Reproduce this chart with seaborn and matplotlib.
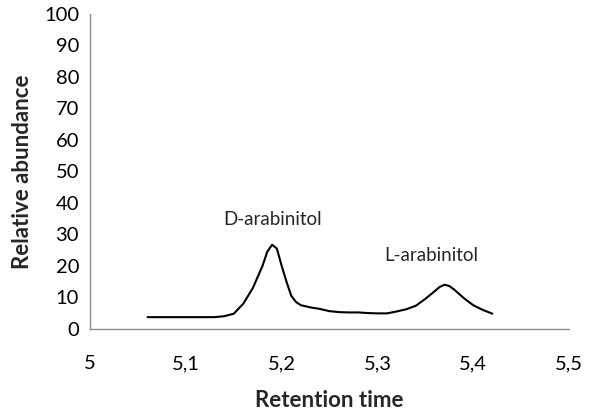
import seaborn as sns
import matplotlib.pyplot as plt
import pandas as pd

# Chromatogram trace
retention = [5.06, 5.08, 5.10, 5.12, 5.13, 5.14, 5.15, 5.16, 5.17, 5.18, 5.185,
             5.19, 5.195, 5.20, 5.205, 5.21, 5.215, 5.22, 5.23, 5.24, 5.25, 5.26,
             5.27, 5.28, 5.29, 5.30, 5.31, 5.32, 5.33, 5.34, 5.35, 5.36, 5.365,
             5.37, 5.375, 5.38, 5.39, 5.40, 5.41, 5.42]
abundance = [3.7, 3.7, 3.7, 3.7, 3.7, 4.0, 4.8, 8.0, 13.0, 20.0, 24.5,
             26.7, 25.5, 20.0, 15.0, 10.5, 8.5, 7.5, 6.8, 6.3, 5.6, 5.3,
             5.2, 5.2, 5.0, 4.9, 4.9, 5.5, 6.2, 7.3, 9.5, 12.0, 13.3,
             14.0, 13.6, 12.5, 9.8, 7.5, 6.0, 4.8]

peak_labels = ['D-arabinitol', 'L-arabinitol']
peak_label_x = [5.19, 5.356]
peak_label_y = [34.6, 23.2]

x_ticks = [5.0, 5.1, 5.2, 5.3, 5.4, 5.5]
x_tick_labels = ['5', '5,1', '5,2', '5,3', '5,4', '5,5']
y_ticks = list(range(0, 101, 10))

df = pd.DataFrame({'Retention time': retention, 'Relative abundance': abundance})

sns.set_style('white')
plt.rcParams['font.family'] = ['Lato', 'DejaVu Sans']

fig = plt.figure(figsize=(5.89, 4.11), dpi=100)
ax = fig.add_axes([0.153, 0.2, 0.813, 0.766])

sns.lineplot(data=df, x='Retention time', y='Relative abundance',
             color='black', linewidth=1.5, ax=ax)

for label, lx, ly in zip(peak_labels, peak_label_x, peak_label_y):
    ax.text(lx, ly, label, ha='center', va='center', fontsize=13.5)

ax.set_xlim(5.0, 5.5)
ax.set_ylim(0, 100)
ax.set_xticks(x_ticks)
ax.set_xticklabels(x_tick_labels)
ax.set_yticks(y_ticks)

sns.despine(ax=ax)
for side in ['left', 'bottom']:
    ax.spines[side].set_color('#8c8c8c')
    ax.spines[side].set_linewidth(1.0)

ax.tick_params(axis='both', which='major', direction='out', length=5,
               width=1.0, color='#8c8c8c', labelsize=14.5, labelcolor='black')
ax.tick_params(axis='x', pad=14)
ax.tick_params(axis='y', pad=3)

ax.set_xlabel('Retention time', fontsize=16, fontweight='bold', labelpad=13)
ax.set_ylabel('Relative abundance', fontsize=16, fontweight='bold', labelpad=8)

fig.savefig('out.png', dpi=100)
